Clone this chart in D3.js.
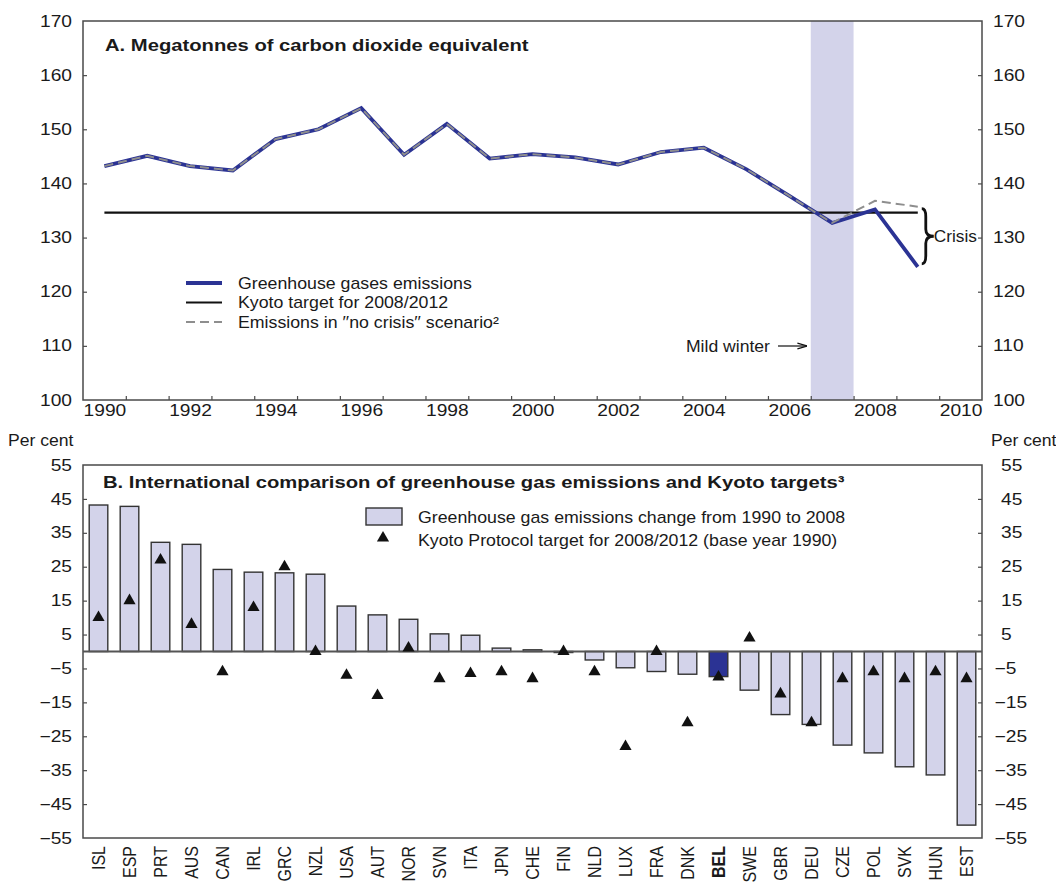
<!DOCTYPE html>
<html><head><meta charset="utf-8">
<script src="https://cdn.jsdelivr.net/npm/d3@7"></script>
<style>
body{margin:0;background:#fff}
svg text{font-family:"Liberation Sans",Arial,Helvetica,sans-serif;fill:#1a1a1a}
</style></head><body>
<svg id="c" width="1056" height="882"></svg>
<script>
// ---------- Panel A data ----------
const years = [1990,1991,1992,1993,1994,1995,1996,1997,1998,1999,2000,2001,2002,2003,2004,2005,2006,2007,2008,2009];
const emissions = [143.2,145.1,143.2,142.4,148.2,150.0,153.9,145.3,151.0,144.6,145.4,144.8,143.5,145.8,146.6,142.6,137.7,132.7,135.2,124.6];
const noCrisis  = [143.2,145.1,143.2,142.4,148.2,150.0,153.9,145.3,151.0,144.6,145.4,144.8,143.5,145.8,146.6,142.6,137.7,132.7,136.8,135.7];
const kyotoTarget = 134.6;
const kyotoYears = [1990, 2009];
const mildWinterYear = 2007;
const yTicksA = [100,110,120,130,140,150,160,170];
const xLabelsA = [1990,1992,1994,1996,1998,2000,2002,2004,2006,2008,2010];

// ---------- Panel B data ----------
const countries = ["ISL","ESP","PRT","AUS","CAN","IRL","GRC","NZL","USA","AUT","NOR","SVN","ITA","JPN","CHE","FIN","NLD","LUX","FRA","DNK","BEL","SWE","GBR","DEU","CZE","POL","SVK","HUN","EST"];
const change = [43.2,42.8,32.2,31.6,24.2,23.4,23.2,22.8,13.4,10.8,9.5,5.2,4.8,1.0,0.5,-0.3,-2.5,-4.8,-5.9,-6.7,-7.4,-11.4,-18.6,-21.5,-27.6,-29.9,-34.0,-36.4,-51.2];
const kyoto = [10,15,27,8,-6,13,25,0,-7,-13,1,-8,-6.5,-6,-8,0,-6,-28,0,-21,-7.5,4,-12.5,-21,-8,-6,-8,-6,-8];
const highlight = "BEL";
const yTicksB = [-55,-45,-35,-25,-15,-5,5,15,25,35,45,55];

const LAV = "#d3d3ea", BLUE = "#2b3394", FRAME = "#4a4a4a";
const svg = d3.select("#c");

function stretch(sel, k, origin){
  sel.style("transform-box","fill-box").style("transform-origin",origin).style("transform",`scaleX(${k})`);
}
const FS = "16px", SX = 1.2;

// ================= Panel A =================
const L = 83, R = 982;
const xT = d3.scaleLinear().domain([1989.5, 2010.5]).range([L, R]);
const yT = d3.scaleLinear().domain([100, 170]).range([400, 21]);

// mild winter band
svg.append("rect").attr("x", xT(mildWinterYear-0.5)).attr("y", yT(170))
  .attr("width", xT(mildWinterYear+0.5)-xT(mildWinterYear-0.5)).attr("height", yT(100)-yT(170))
  .attr("fill", LAV);

// frame
svg.append("rect").attr("x", L).attr("y", yT(170)).attr("width", R-L).attr("height", yT(100)-yT(170))
  .attr("fill","none").attr("stroke",FRAME).attr("stroke-width",1.5);

// inward ticks
const gTL = svg.append("g").attr("transform",`translate(${L},0)`).call(d3.axisRight(yT).tickValues(yTicksA.slice(1,-1)).tickSize(4).tickFormat(""));
const gTR = svg.append("g").attr("transform",`translate(${R},0)`).call(d3.axisLeft(yT).tickValues(yTicksA.slice(1,-1)).tickSize(4).tickFormat(""));
const gTB = svg.append("g").attr("transform",`translate(0,${yT(100)})`).call(d3.axisTop(xT).tickValues(d3.range(1990.5,2010,1)).tickSize(4).tickFormat(""));
[gTL,gTR,gTB].forEach(g=>{g.select(".domain").remove(); g.selectAll("line").attr("stroke",FRAME).attr("stroke-width",1.2);});

// labels
const aLeft = svg.append("g").attr("transform",`translate(${L},0)`).call(d3.axisLeft(yT).tickValues(yTicksA).tickSize(0).tickPadding(11));
const aRight = svg.append("g").attr("transform",`translate(${R},0)`).call(d3.axisRight(yT).tickValues(yTicksA).tickSize(0).tickPadding(11));
const aBot = svg.append("g").attr("transform",`translate(0,${yT(100)})`).call(d3.axisBottom(xT).tickValues(xLabelsA).tickSize(0).tickPadding(5).tickFormat(d3.format("d")));
[aLeft,aRight,aBot].forEach(g=>{g.select(".domain").remove(); g.selectAll("text").attr("font-size",FS).attr("font-family",null).attr("fill","#1a1a1a");});
stretch(aLeft.selectAll("text"), SX, "right center");
stretch(aRight.selectAll("text"), SX, "left center");
stretch(aBot.selectAll("text"), SX, "center center");

// Kyoto target line
svg.append("line").attr("x1",xT(kyotoYears[0])).attr("x2",xT(kyotoYears[1]))
  .attr("y1",yT(kyotoTarget)).attr("y2",yT(kyotoTarget)).attr("stroke","#111").attr("stroke-width",2.2);

const line = d3.line().x((d,i)=>xT(years[i])).y(d=>yT(d));
svg.append("path").attr("d", line(emissions)).attr("fill","none").attr("stroke",BLUE).attr("stroke-width",3.8).attr("stroke-linejoin","miter");
svg.append("path").attr("d", line(noCrisis)).attr("fill","none").attr("stroke","#8e8e8e").attr("stroke-width",2).attr("stroke-dasharray","9,5");

// Title A
const tA = svg.append("text").attr("x",105).attr("y",51).attr("font-size","17px").attr("font-weight","bold")
  .text("A. Megatonnes of carbon dioxide equivalent");
stretch(tA, 1.19, "left center");

// Legend A
const legA = [
  {t:"Greenhouse gases emissions", c:BLUE, w:3.8, dash:null},
  {t:"Kyoto target for 2008/2012", c:"#111", w:2.2, dash:null},
  {t:"Emissions in \u2032\u2032no crisis\u2032\u2032 scenario\u00b2", c:"#8e8e8e", w:2, dash:"9,5"}
];
legA.forEach((d,i)=>{
  const y = 283 + i*19.5;
  svg.append("line").attr("x1",186).attr("x2",222).attr("y1",y).attr("y2",y)
    .attr("stroke",d.c).attr("stroke-width",d.w).attr("stroke-dasharray",d.dash);
  const t = svg.append("text").attr("x",238).attr("y",y).attr("dy","0.35em").attr("font-size",FS).text(d.t);
  stretch(t, 1.11, "left center");
});

// Mild winter annotation
const mw = svg.append("text").attr("x",770).attr("y",346).attr("dy","0.35em").attr("text-anchor","end").attr("font-size",FS).text("Mild winter");
stretch(mw, 1.1, "right center");
svg.append("defs").append("marker").attr("id","ah").attr("viewBox","0 0 10 10").attr("refX",10).attr("refY",5)
  .attr("markerWidth",8).attr("markerHeight",8).attr("orient","auto")
  .append("path").attr("d","M0,2 L10,5 L0,8").attr("fill","none").attr("stroke","#111").attr("stroke-width",1.3);
svg.append("line").attr("x1",778).attr("x2",807).attr("y1",346).attr("y2",346).attr("stroke","#111").attr("stroke-width",1.2).attr("marker-end","url(#ah)");

// Crisis brace
const bx = xT(2009)+4, yTop = yT(kyotoTarget)-4, yBot = yT(emissions[emissions.length-1])-3, ym = (yTop+yBot)/2;
svg.append("path").attr("d",`M${bx},${yTop} Q${bx+4},${yTop} ${bx+4},${yTop+8} L${bx+4},${ym-7} Q${bx+4},${ym} ${bx+12},${ym} Q${bx+4},${ym} ${bx+4},${ym+7} L${bx+4},${yBot-8} Q${bx+4},${yBot} ${bx},${yBot}`)
  .attr("fill","none").attr("stroke","#111").attr("stroke-width",2.8);
const cr = svg.append("text").attr("x",bx+12).attr("y",ym).attr("dy","0.35em").attr("font-size",FS).text("Crisis");
stretch(cr, 1.08, "left center");

// ================= Panel B =================
const xB = d3.scaleBand().domain(countries).range([L, R]).paddingInner(0.4).paddingOuter(0.2);
const yB = d3.scaleLinear().domain([-55, 55]).range([838, 465]);

svg.append("rect").attr("x", L).attr("y", yB(55)).attr("width", R-L).attr("height", yB(-55)-yB(55))
  .attr("fill","none").attr("stroke",FRAME).attr("stroke-width",1.5);

const gBL = svg.append("g").attr("transform",`translate(${L},0)`).call(d3.axisRight(yB).tickValues(yTicksB.slice(1,-1)).tickSize(4).tickFormat(""));
const gBR = svg.append("g").attr("transform",`translate(${R},0)`).call(d3.axisLeft(yB).tickValues(yTicksB.slice(1,-1)).tickSize(4).tickFormat(""));
[gBL,gBR].forEach(g=>{g.select(".domain").remove(); g.selectAll("line").attr("stroke",FRAME).attr("stroke-width",1.2);});

const bLeft = svg.append("g").attr("transform",`translate(${L},0)`).call(d3.axisLeft(yB).tickValues(yTicksB).tickSize(0).tickPadding(11));
const bRight = svg.append("g").attr("transform",`translate(${R},0)`).call(d3.axisRight(yB).tickValues(yTicksB).tickSize(0).tickPadding(19));
[bLeft,bRight].forEach(g=>{g.select(".domain").remove(); g.selectAll("text").attr("font-size",FS).attr("font-family",null).attr("fill","#1a1a1a");});
stretch(bLeft.selectAll("text"), SX, "right center");
bRight.selectAll("text").attr("dx", d=> d<0 ? "-0.4em" : null);
stretch(bRight.selectAll("text"), SX, "left center");

// bars
svg.append("g").selectAll("rect").data(countries).join("rect")
  .attr("x", d=>xB(d)).attr("width", xB.bandwidth())
  .attr("y", (d,i)=>yB(Math.max(0,change[i])))
  .attr("height", (d,i)=>Math.abs(yB(change[i])-yB(0)))
  .attr("fill", d=> d===highlight ? BLUE : LAV)
  .attr("stroke","#333").attr("stroke-width",1.4);

// zero line
svg.append("line").attr("x1",L).attr("x2",R).attr("y1",yB(0)).attr("y2",yB(0)).attr("stroke","#555").attr("stroke-width",2);

// triangles
const tri = d3.symbol().type(d3.symbolTriangle).size(64);
svg.append("g").selectAll("path").data(countries).join("path")
  .attr("d", tri).attr("transform",(d,i)=>`translate(${xB(d)+xB.bandwidth()/2},${yB(kyoto[i])})`)
  .attr("fill","#111");

// country labels
const bAx = svg.append("g").attr("transform",`translate(0,${yB(-55)})`).call(d3.axisBottom(xB).tickSize(0));
bAx.select(".domain").remove();
bAx.selectAll("text").attr("font-size","16px").attr("font-family",null).attr("fill","#1a1a1a")
  .attr("text-anchor","end").attr("x",-8).attr("y",0).attr("dy","0.36em")
  .attr("transform","scale(1.12,1) rotate(-90)")
  .attr("font-weight", d=> d===highlight ? "bold" : null);

// Per cent labels
const pc1 = svg.append("text").attr("x",8).attr("y",440).attr("dy","0.35em").attr("font-size",FS).text("Per cent");
stretch(pc1, 1.1, "left center");
const pc2 = svg.append("text").attr("x",991).attr("y",440).attr("dy","0.35em").attr("font-size",FS).text("Per cent");
stretch(pc2, 1.1, "left center");

// Title B
const tB = svg.append("text").attr("x",103).attr("y",488).attr("font-size","17px").attr("font-weight","bold")
  .text("B. International comparison of greenhouse gas emissions and Kyoto targets\u00b3");
stretch(tB, 1.19, "left center");

// Legend B
svg.append("rect").attr("x",366).attr("y",508).attr("width",36).attr("height",17).attr("fill",LAV).attr("stroke","#333").attr("stroke-width",1.4);
svg.append("path").attr("d",tri).attr("transform","translate(383,538)").attr("fill","#111");
const lb1 = svg.append("text").attr("x",418).attr("y",517).attr("dy","0.35em").attr("font-size",FS).text("Greenhouse gas emissions change from 1990 to 2008");
const lb2 = svg.append("text").attr("x",418).attr("y",540).attr("dy","0.35em").attr("font-size",FS).text("Kyoto Protocol target for 2008/2012 (base year 1990)");
stretch(lb1, 1.11, "left center");
stretch(lb2, 1.11, "left center");
</script>
</body></html>
